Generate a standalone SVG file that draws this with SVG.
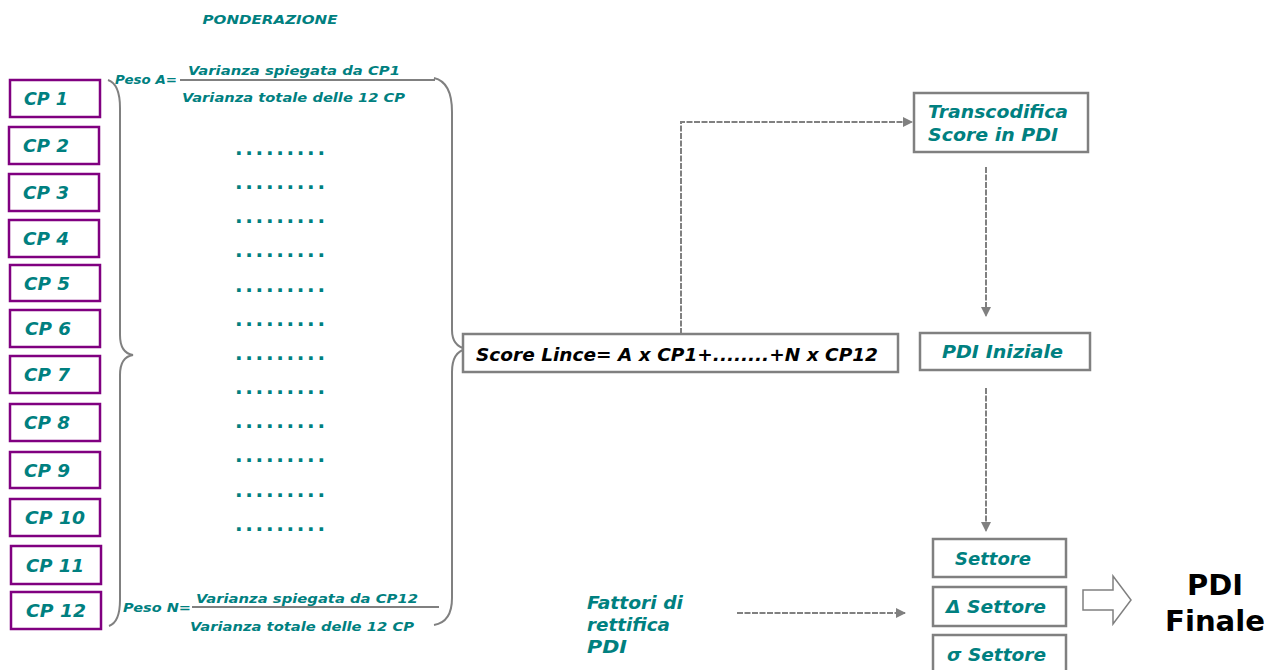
<svg xmlns="http://www.w3.org/2000/svg" width="1276" height="670" viewBox="0 0 1276 670">
<style>
.t{font-family:"DejaVu Sans",Verdana,sans-serif;font-weight:bold;font-style:italic;fill:#008080}
.c{font-size:17.5px}
.cp{fill:#fff;stroke:#800080;stroke-width:2.5}
.bx{fill:#fff;stroke:#808080;stroke-width:2.5}
.ln{fill:none;stroke:#808080;stroke-width:2}
.dt{font-family:"DejaVu Sans",sans-serif;font-weight:bold;fill:#008080;font-size:20px}
</style>
<defs>
<marker id="ah" markerWidth="10" markerHeight="10" refX="9" refY="5" orient="auto" markerUnits="userSpaceOnUse">
<path d="M0,0 L10,5 L0,10 Z" fill="#808080"/>
</marker>
</defs>
<rect width="1276" height="670" fill="#fff"/>
<text class="t" x="270" y="24" font-size="12.5" text-anchor="middle" textLength="135" lengthAdjust="spacingAndGlyphs">PONDERAZIONE</text>

<g id="cp1"><rect class="cp" x="10" y="80" width="90" height="37"/><text class="t c" x="24" y="105" textLength="44" lengthAdjust="spacingAndGlyphs">CP 1</text></g>
<g id="cp2"><rect class="cp" x="9" y="127" width="90" height="37"/><text class="t c" x="23" y="152" textLength="46" lengthAdjust="spacingAndGlyphs">CP 2</text></g>
<g id="cp3"><rect class="cp" x="9" y="174" width="90" height="37"/><text class="t c" x="23" y="199" textLength="46" lengthAdjust="spacingAndGlyphs">CP 3</text></g>
<g id="cp4"><rect class="cp" x="9" y="220" width="90" height="37"/><text class="t c" x="23" y="245" textLength="46" lengthAdjust="spacingAndGlyphs">CP 4</text></g>
<g id="cp5"><rect class="cp" x="10" y="265" width="90" height="36"/><text class="t c" x="24" y="290" textLength="46" lengthAdjust="spacingAndGlyphs">CP 5</text></g>
<g id="cp6"><rect class="cp" x="10" y="310" width="90" height="37"/><text class="t c" x="25" y="335" textLength="46" lengthAdjust="spacingAndGlyphs">CP 6</text></g>
<g id="cp7"><rect class="cp" x="10" y="356" width="90" height="37"/><text class="t c" x="24" y="381" textLength="46" lengthAdjust="spacingAndGlyphs">CP 7</text></g>
<g id="cp8"><rect class="cp" x="10" y="404" width="90" height="37"/><text class="t c" x="24" y="429" textLength="46" lengthAdjust="spacingAndGlyphs">CP 8</text></g>
<g id="cp9"><rect class="cp" x="10" y="452" width="90" height="36"/><text class="t c" x="24" y="477" textLength="46" lengthAdjust="spacingAndGlyphs">CP 9</text></g>
<g id="cp10"><rect class="cp" x="10" y="499" width="90" height="37"/><text class="t c" x="25" y="524" textLength="60" lengthAdjust="spacingAndGlyphs">CP 10</text></g>
<g id="cp11"><rect class="cp" x="11" y="546" width="90" height="38"/><text class="t c" x="26" y="572" textLength="58" lengthAdjust="spacingAndGlyphs">CP 11</text></g>
<g id="cp12"><rect class="cp" x="11" y="592" width="90" height="37"/><text class="t c" x="26" y="617" textLength="60" lengthAdjust="spacingAndGlyphs">CP 12</text></g>

<g id="formula-top">
<text class="t" x="115" y="84" font-size="11.5" textLength="62" lengthAdjust="spacingAndGlyphs">Peso A=</text>
<line class="ln" x1="180" y1="80" x2="435" y2="80"/>
<text class="t" x="188" y="75" font-size="13" textLength="212" lengthAdjust="spacingAndGlyphs">Varianza spiegata da CP1</text>
<text class="t" x="182" y="102" font-size="13" textLength="223" lengthAdjust="spacingAndGlyphs">Varianza totale delle 12 CP</text>
</g>
<g id="formula-bottom">
<text class="t" x="123" y="612" font-size="11.5" textLength="68" lengthAdjust="spacingAndGlyphs">Peso N=</text>
<line class="ln" x1="192" y1="607" x2="439" y2="607"/>
<text class="t" x="196" y="603" font-size="13" textLength="222" lengthAdjust="spacingAndGlyphs">Varianza spiegata da CP12</text>
<text class="t" x="190" y="631" font-size="13" textLength="224" lengthAdjust="spacingAndGlyphs">Varianza totale delle 12 CP</text>
</g>

<g id="dots">
<text class="dt" x="235" y="155" textLength="90" lengthAdjust="spacing">.........</text>
<text class="dt" x="235" y="189" textLength="90" lengthAdjust="spacing">.........</text>
<text class="dt" x="235" y="223" textLength="90" lengthAdjust="spacing">.........</text>
<text class="dt" x="235" y="257" textLength="90" lengthAdjust="spacing">.........</text>
<text class="dt" x="235" y="292" textLength="90" lengthAdjust="spacing">.........</text>
<text class="dt" x="235" y="326" textLength="90" lengthAdjust="spacing">.........</text>
<text class="dt" x="235" y="360" textLength="90" lengthAdjust="spacing">.........</text>
<text class="dt" x="235" y="394" textLength="90" lengthAdjust="spacing">.........</text>
<text class="dt" x="235" y="428" textLength="90" lengthAdjust="spacing">.........</text>
<text class="dt" x="235" y="462" textLength="90" lengthAdjust="spacing">.........</text>
<text class="dt" x="235" y="497" textLength="90" lengthAdjust="spacing">.........</text>
<text class="dt" x="235" y="531" textLength="90" lengthAdjust="spacing">.........</text>
</g>

<g id="braces">
<path class="ln" d="M108,80 Q120,84 120,108 L120,335 Q120,353 133,355 Q120,357 120,375 L120,600 Q120,622 109,626"/>
<path class="ln" d="M434,78 Q452,82 452,112 L452,330 Q452,346 466,349 Q452,352 452,372 L452,598 Q452,622 434,625"/>
</g>

<g id="score"><rect class="bx" x="463" y="334" width="435" height="38"/>
<text x="476" y="361" font-family="DejaVu Sans,sans-serif" font-weight="bold" font-style="italic" font-size="18" fill="#000" textLength="402" lengthAdjust="spacingAndGlyphs">Score Lince= A x CP1+........+N x CP12</text></g>

<g id="transcodifica"><rect class="bx" x="914" y="93" width="174" height="59"/>
<text class="t" x="928" y="118" font-size="18" textLength="140" lengthAdjust="spacingAndGlyphs">Transcodifica</text>
<text class="t" x="928" y="141" font-size="18" textLength="130" lengthAdjust="spacingAndGlyphs">Score in PDI</text></g>

<g id="pdi-iniziale"><rect class="bx" x="920" y="333" width="170" height="37"/>
<text class="t" x="942" y="358" font-size="18" textLength="121" lengthAdjust="spacingAndGlyphs">PDI Iniziale</text></g>

<g id="settore"><rect class="bx" x="933" y="539" width="133" height="38"/>
<text class="t" x="955" y="565" font-size="18" textLength="76" lengthAdjust="spacingAndGlyphs">Settore</text></g>
<g id="delta-settore"><rect class="bx" x="933" y="587" width="133" height="39"/>
<text class="t" x="946" y="613" font-size="18" textLength="100" lengthAdjust="spacingAndGlyphs">Δ Settore</text></g>
<g id="sigma-settore"><rect class="bx" x="933" y="635" width="133" height="40"/>
<text class="t" x="947" y="661" font-size="18" textLength="99" lengthAdjust="spacingAndGlyphs">σ Settore</text></g>

<g id="fattori">
<text class="t" x="587" y="609" font-size="17.5" textLength="96" lengthAdjust="spacingAndGlyphs">Fattori di</text>
<text class="t" x="587" y="631" font-size="17.5" textLength="83" lengthAdjust="spacingAndGlyphs">rettifica</text>
<text class="t" x="587" y="653" font-size="17.5" textLength="40" lengthAdjust="spacingAndGlyphs">PDI</text>
</g>

<g id="pdi-finale">
<text x="1215" y="595" font-family="DejaVu Sans,sans-serif" font-weight="bold" font-size="28" fill="#000" text-anchor="middle" textLength="56" lengthAdjust="spacingAndGlyphs">PDI</text>
<text x="1215" y="631" font-family="DejaVu Sans,sans-serif" font-weight="bold" font-size="28" fill="#000" text-anchor="middle" textLength="100" lengthAdjust="spacingAndGlyphs">Finale</text>
</g>

<g id="connectors">
<path class="ln" d="M681,334 L681,122 L912,122" stroke-dasharray="6 1.5" marker-end="url(#ah)"/>
<line class="ln" x1="986" y1="167" x2="986" y2="316" stroke-dasharray="6 1.5" marker-end="url(#ah)"/>
<line class="ln" x1="986" y1="388" x2="986" y2="531" stroke-dasharray="6 1.5" marker-end="url(#ah)"/>
<line class="ln" x1="737" y1="613" x2="905" y2="613" stroke-dasharray="6 1.5" marker-end="url(#ah)"/>
<path d="M1083,590 L1113,590 L1113,576 L1131,600 L1113,624 L1113,610 L1083,610 Z" fill="#fff" stroke="#808080" stroke-width="1.5"/>
</g>
</svg>
